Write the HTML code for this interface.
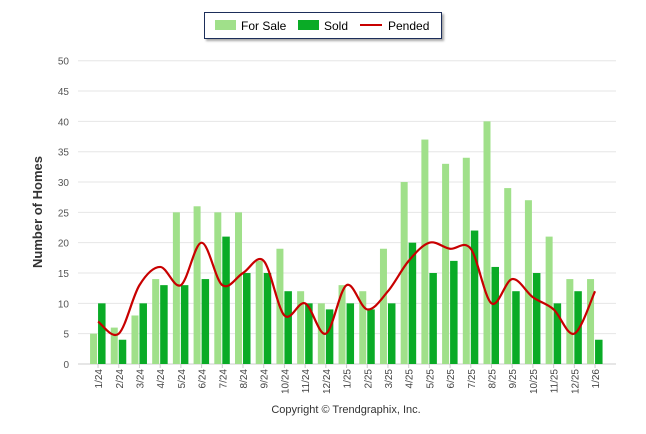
<!DOCTYPE html>
<html><head><meta charset="utf-8"><style>
html,body{margin:0;padding:0;background:#fff;}
svg{display:block;font-family:"Liberation Sans",Arial,sans-serif;}
</style></head><body>
<svg id="chart" width="646" height="434" viewBox="0 0 646 434">
<defs><filter id="sh" x="-5%" y="-20%" width="115%" height="160%"><feDropShadow dx="2" dy="2" stdDeviation="1" flood-color="#000" flood-opacity="0.35"/></filter></defs>
<g id="grid"></g>
<g id="bars"></g>
<g id="line"></g>
<g id="xlabels"></g>
<g id="ylabels"></g>
<text transform="translate(42,212) rotate(-90)" text-anchor="middle" font-size="13" font-weight="bold" fill="#333">Number of Homes</text>
<g>
<rect x="204.5" y="12.5" width="237" height="26" fill="#fff" stroke="#1a2f5a" stroke-width="1" filter="url(#sh)"/>
<rect x="215" y="20" width="21" height="10" fill="#a0e08a"/>
<text x="241" y="30" font-size="12" fill="#000">For Sale</text>
<rect x="298" y="20" width="21" height="10" fill="#0aab26"/>
<text x="324" y="30" font-size="12" fill="#000">Sold</text>
<line x1="360" y1="25" x2="382" y2="25" stroke="#c80000" stroke-width="2"/>
<text x="388" y="30" font-size="12" fill="#000">Pended</text>
</g>
<text x="346" y="413" text-anchor="middle" font-size="11" fill="#333">Copyright © Trendgraphix, Inc.</text>
</svg>
<script>
const categories=["1/24","2/24","3/24","4/24","5/24","6/24","7/24","8/24","9/24","10/24","11/24","12/24","1/25","2/25","3/25","4/25","5/25","6/25","7/25","8/25","9/25","10/25","11/25","12/25","1/26"];
const forSale=[5,6,8,14,25,26,25,25,17,19,12,10,13,12,19,30,37,33,34,40,29,27,21,14,14];
const sold=[10,4,10,13,13,14,21,15,15,12,10,9,10,9,10,20,15,17,22,16,12,15,10,12,4];
const pended=[7,5,13,16,13,20,13,15,17,8,10,5,13,9,12,17,20,19,19,10,14,11,9,5,12];
const yTicks=[0,5,10,15,20,25,30,35,40,45,50];

const NS="http://www.w3.org/2000/svg";
const X0=87.7,X1=605.4,Y0=364,Y1=60.7,YMAX=50;
const bw=(X1-X0)/categories.length;
function xc(i){return X0+bw*(i+0.5);}
function y(v){return Y0-(v/YMAX)*(Y0-Y1);}
function mk(tag,attrs,parent){const e=document.createElementNS(NS,tag);for(const k in attrs)e.setAttribute(k,attrs[k]);parent.appendChild(e);return e;}
const grid=document.getElementById('grid'),bars=document.getElementById('bars'),line=document.getElementById('line'),xl=document.getElementById('xlabels'),yl=document.getElementById('ylabels');

yTicks.forEach(t=>{
  const g=mk('line',{x1:78,x2:616,y1:y(t),y2:y(t),stroke:t===0?'#ccc':'#e6e6e6','stroke-width':1},grid);
  
  
  const tx=mk('text',{x:69,y:y(t)+4,'text-anchor':'end','font-size':10,fill:'#555'},yl);
  tx.textContent=t;
  
  
});

categories.forEach((c,i)=>{
  const cx=xc(i);
  const b1=mk('rect',{x:cx-8,y:y(forSale[i]),width:7,height:Y0-y(forSale[i]),fill:'#a0e08a'},bars);
  
  
  const b2=mk('rect',{x:cx,y:y(sold[i]),width:7.5,height:Y0-y(sold[i]),fill:'#0aab26'},bars);
  
  
  const tk=mk('line',{x1:cx,x2:cx,y1:Y0,y2:Y0+4,stroke:'#ccc'},xl);
  
  
  const tx=mk('text',{transform:'translate('+(cx+4)+','+(Y0+5)+') rotate(-90)','text-anchor':'end','font-size':10,fill:'#444'},xl);
  tx.textContent=c;
  
  
});

const pts=pended.map((v,i)=>[xc(i),y(v)]);
let d='M'+pts[0][0]+','+pts[0][1];
const s=0.5;
for(let i=0;i<pts.length-1;i++){
  const p0=pts[Math.max(0,i-1)],p1=pts[i],p2=pts[i+1],p3=pts[Math.min(pts.length-1,i+2)];
  const c1x=p1[0]+(p2[0]-p0[0])*s/3,c1y=p1[1]+(p2[1]-p0[1])*s/3;
  const c2x=p2[0]-(p3[0]-p1[0])*s/3,c2y=p2[1]-(p3[1]-p1[1])*s/3;
  d+=' C'+c1x+','+c1y+' '+c2x+','+c2y+' '+p2[0]+','+p2[1];
}
const pl=mk('path',{d:d,fill:'none',stroke:'#c80000','stroke-width':2.2,'stroke-linejoin':'round'},line);


</script>
</body></html>
